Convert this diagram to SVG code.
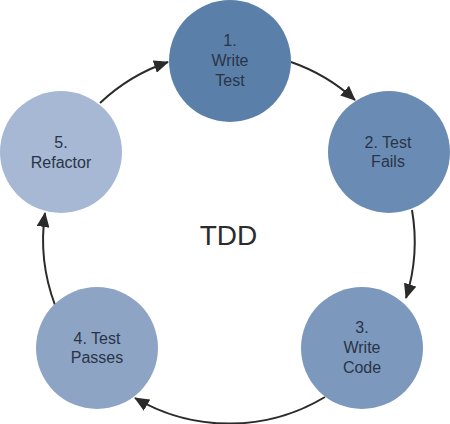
<svg xmlns="http://www.w3.org/2000/svg" width="450" height="424" viewBox="0 0 450 424">
<style>
.lbl{font-family:"Liberation Sans",Arial,sans-serif;font-size:16px;fill:#2a3447;text-anchor:middle}
.conn{fill:none;stroke:#2b2b2b;stroke-width:2;marker-end:url(#ah)}
</style>
<defs>
<marker id="ah" markerUnits="userSpaceOnUse" markerWidth="15" markerHeight="13" refX="14" refY="6.5" orient="auto">
<path d="M0,0 L15,6.5 L0,13 z" fill="#2b2b2b"/>
</marker>
</defs>
<rect width="450" height="424" fill="#ffffff"/>
<g id="connectors">
<path class="conn" d="M291,62 A186,186 0 0 1 355,100"/>
<path class="conn" d="M412,210 A186,186 0 0 1 406,298"/>
<path class="conn" d="M325,397 A186,186 0 0 1 135,398"/>
<path class="conn" d="M55,305 A186,186 0 0 1 45,213"/>
<path class="conn" d="M100,103 A186,186 0 0 1 168,62"/>
</g>
<g id="n1">
<circle cx="230" cy="61" r="61" fill="#5a80a9"/>
<text class="lbl" x="230" y="46">1.</text>
<text class="lbl" x="230" y="66">Write</text>
<text class="lbl" x="230" y="86">Test</text>
</g>
<g id="n2">
<circle cx="389" cy="152" r="61" fill="#6a8cb4"/>
<text class="lbl" x="388" y="148">2. Test</text>
<text class="lbl" x="388" y="167">Fails</text>
</g>
<g id="n3">
<circle cx="362" cy="348" r="61" fill="#7c98bd"/>
<text class="lbl" x="362" y="333">3.</text>
<text class="lbl" x="362" y="353">Write</text>
<text class="lbl" x="362" y="373">Code</text>
</g>
<g id="n4">
<circle cx="97" cy="348" r="61" fill="#8da4c5"/>
<text class="lbl" x="97" y="344">4. Test</text>
<text class="lbl" x="97" y="363">Passes</text>
</g>
<g id="n5">
<circle cx="61" cy="152" r="61" fill="#a6b8d3"/>
<text class="lbl" x="61" y="148">5.</text>
<text class="lbl" x="61" y="168">Refactor</text>
</g>
<g id="center">
<text x="228.5" y="245" style="font-family:'Liberation Sans',Arial,sans-serif;font-size:28px;fill:#2b2b2b;text-anchor:middle">TDD</text>
</g>
</svg>
